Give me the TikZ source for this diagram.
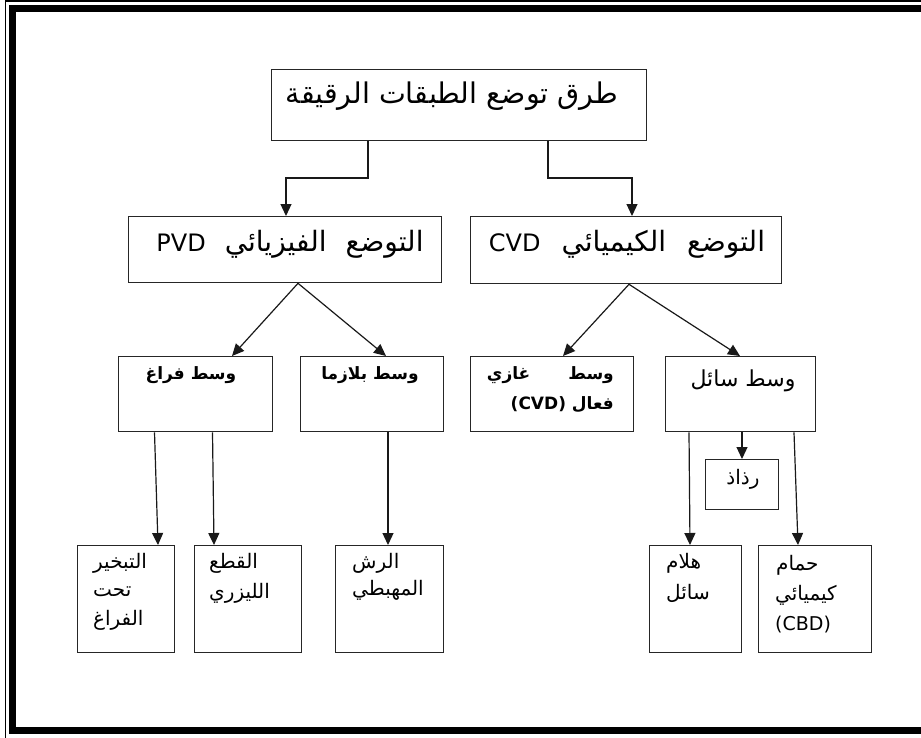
\documentclass[tikz,border=0pt]{standalone}
\usepackage{fontspec}
\setmainfont{DejaVu Sans}
\usetikzlibrary{arrows.meta}
\TeXXeTstate=1
\newfontfamily\arabicfont[Script=Arabic]{DejaVu Sans}
\newcommand{\AR}[1]{\beginR #1\endR}
\newcommand{\LT}[1]{\beginL #1\endL{}}
\newcommand{\fsz}[1]{\fontsize{#1}{#1}\selectfont}
\begin{document}
\begin{tikzpicture}[x=1pt,y=-1pt,
  box/.style={draw=black!85,line width=1.3pt,inner sep=0pt,anchor=north west},
  arr/.style={-{Triangle[length=12pt,width=11pt]},line width=1.2pt,draw=black!90},
  txt/.style={inner sep=0pt,text=black},
  small/.style={txt,font=\arabicfont\fsz{20},anchor=west},
  mid/.style={txt,font=\arabicfont\bfseries\fsz{17}},
]
\useasboundingbox (0,0) rectangle (921,737);
\clip (0,0) rectangle (921,737);
% page frame
\draw[line width=1.6pt] (5.5,760) -- (5.5,1.2) -- (1000,1.2);
\draw[line width=7pt] (12,8.5) rectangle (1000,730.5);

% boxes
\node[box,minimum width=375pt,minimum height=71pt] (top) at (271,69) {};
\node[box,minimum width=313pt,minimum height=66pt] (pvd) at (128,216) {};
\node[box,minimum width=311pt,minimum height=67pt] (cvd) at (470,216) {};
\node[box,minimum width=154pt,minimum height=75pt] (vac) at (118,356) {};
\node[box,minimum width=143pt,minimum height=75pt] (pla) at (300,356) {};
\node[box,minimum width=163pt,minimum height=75pt] (gas) at (470,356) {};
\node[box,minimum width=150pt,minimum height=75pt] (liq) at (665,356) {};
\node[box,minimum width=73pt,minimum height=50pt] (spr) at (705,459) {};
\node[box,minimum width=97pt,minimum height=107pt] (eva) at (77,545) {};
\node[box,minimum width=107pt,minimum height=107pt] (las) at (194,545) {};
\node[box,minimum width=108pt,minimum height=107pt] (spu) at (335,545) {};
\node[box,minimum width=92pt,minimum height=107pt] (gel) at (649,545) {};
\node[box,minimum width=113pt,minimum height=107pt] (bat) at (758,545) {};

% texts
\node[txt,font=\arabicfont\fsz{28.5}] (t0) at (452,96) {\AR{طرق توضع الطبقات الرقيقة}};
\node[txt,font=\arabicfont\fsz{28}] (t1) at (290,244) {\AR{التوضع\hspace{19pt}الفيزيائي\hspace{19pt}{\fsz{24}\LT{PVD}}}};
\node[txt,font=\arabicfont\fsz{28}] (t2) at (627,244) {\AR{التوضع\hspace{21pt}الكيميائي\hspace{21pt}{\fsz{24}\LT{CVD}}}};
\node[mid] (t3) at (191,375) {\AR{وسط فراغ}};
\node[mid] (t4) at (370,375) {\AR{وسط بلازما}};
\node[mid,anchor=east] (t5a) at (614,375) {\AR{وسط\hspace{38pt}غازي}};
\node[mid,anchor=east] (t5b) at (614,405) {\AR{فعال \LT{(CVD)}}};
\node[txt,font=\arabicfont\fsz{22}] (t6) at (743,381) {\AR{وسط سائل}};
\node[txt,font=\arabicfont\fsz{20}] (t7) at (743,479) {\AR{رذاذ}};
\node[small] (t8a) at (93,563) {\AR{التبخير}};
\node[small] (t8b) at (93,592) {\AR{تحت}};
\node[small] (t8c) at (93,620) {\AR{الفراغ}};
\node[small] (t9a) at (209,563) {\AR{القطع}};
\node[small] (t9b) at (209,593) {\AR{الليزري}};
\node[small] (t10a) at (352,563) {\AR{الرش}};
\node[small] (t10b) at (352,590) {\AR{المهبطي}};
\node[small] (t11a) at (666,563) {\AR{هلام}};
\node[small] (t11b) at (666,593) {\AR{سائل}};
\node[small] (t12a) at (776,565) {\AR{حمام}};
\node[small] (t12b) at (775,595) {\AR{كيميائي}};
\node[txt,font=\fsz{19},anchor=west] (t12c) at (775,625) {(CBD)};

% guide coordinates
\coordinate (j1) at (368,178);
\coordinate (j2) at (286,178);
\coordinate (j3) at (548,178);
\coordinate (j4) at (632,178);
\coordinate (p0) at (298,0);
\coordinate (c0) at (629,0);
\coordinate (xvac) at (232,0);
\coordinate (xpla) at (386,0);
\coordinate (xgas) at (563,0);
\coordinate (xliq) at (740,0);
\coordinate (a1) at (154.5,0);
\coordinate (b1) at (158,0);
\coordinate (a2) at (212.5,0);
\coordinate (b2) at (214,0);
\coordinate (a3) at (388,0);
\coordinate (a4) at (742,0);
\coordinate (a5) at (689,0);
\coordinate (b5) at (690,0);
\coordinate (a6) at (794,0);
\coordinate (b6) at (798,0);

% connectors
\draw[arr] (top.south -| j1) -- (j1) -- (j2) -- (pvd.north -| j2);
\draw[arr] (top.south -| j3) -- (j3) -- (j4) -- (cvd.north -| j4);
\draw[arr] (pvd.south -| p0) -- (vac.north -| xvac);
\draw[arr] (pvd.south -| p0) -- (pla.north -| xpla);
\draw[arr] (cvd.south -| c0) -- (gas.north -| xgas);
\draw[arr] (cvd.south -| c0) -- (liq.north -| xliq);
\draw[arr] (vac.south -| a1) -- (eva.north -| b1);
\draw[arr] (vac.south -| a2) -- (las.north -| b2);
\draw[arr] (pla.south -| a3) -- (spu.north -| a3);
\draw[arr] (liq.south -| a4) -- (spr.north -| a4);
\draw[arr] (liq.south -| a5) -- (gel.north -| b5);
\draw[arr] (liq.south -| a6) -- (bat.north -| b6);
\end{tikzpicture}
\end{document}
